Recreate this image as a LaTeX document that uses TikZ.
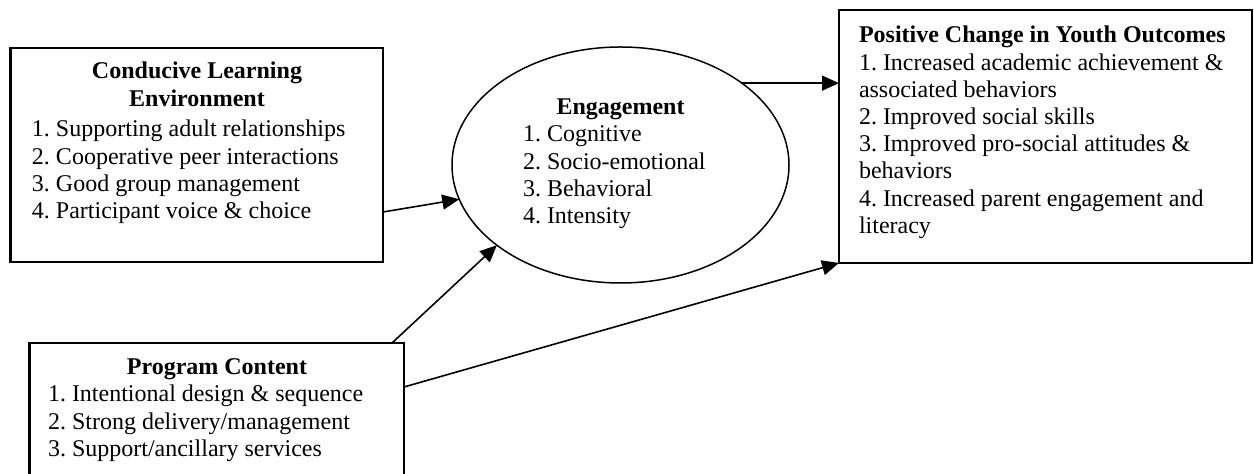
\documentclass[tikz,border=0pt]{standalone}
\usepackage{fontspec}
\setmainfont{Liberation Serif}
\usetikzlibrary{shapes.geometric,arrows.meta}
\frenchspacing
\begin{document}
\begin{tikzpicture}[x=0.5pt,y=-0.5pt,
  panel/.style={draw, line width=1.1pt, rectangle, inner sep=0pt, outer sep=0pt},
  oval/.style={draw, line width=0.75pt, ellipse, inner sep=0pt, outer sep=0pt},
  txt/.style={inner sep=0pt, outer sep=0pt, font=\fontsize{12}{13.6}\selectfont\frenchspacing},
  arr/.style={line width=0.8pt, -{Triangle[length=8.5pt,width=7.5pt]}}]
\clip (0,0) rectangle (1254,474);
\fill[white] (0,0) rectangle (1254,474);

% the four elements of the model
\node[panel, minimum width=186.25pt, minimum height=107pt] (cle) at (196.75,155) {};
\node[oval, minimum width=168.5pt, minimum height=118pt] (eng) at (620.5,165) {};
\node[panel, minimum width=206.5pt, minimum height=126.5pt] (pos) at (1045.5,136.5) {};
\node[panel, minimum width=187.25pt, minimum height=83.5pt] (prog) at (216.75,426.5) {};

% Conducive Learning Environment
\node[txt, anchor=base] (cleT) at (197,79)
  {\parbox[t]{180pt}{\centering\bfseries Conducive Learning\\Environment}};
\node[txt, anchor=base west] (cleL) at (32,137)
  {\parbox[t]{185pt}{\raggedright\frenchspacing
   1. Supporting adult relationships\\
   2. Cooperative peer interactions\\
   3. Good group management\\
   4. Participant voice \& choice}};

% Engagement
\node[txt, anchor=base, font=\fontsize{12}{13.6}\selectfont\bfseries] (engT) at (620.5,115) {Engagement};
\node[txt, anchor=base west] (engL) at (523,142)
  {\parbox[t]{120pt}{\raggedright\frenchspacing
   1. Cognitive\\
   2. Socio-emotional\\
   3. Behavioral\\
   4. Intensity}};

% Positive Change in Youth Outcomes
\node[txt, anchor=base west] (posL) at (859,43)
  {\parbox[t]{195pt}{\raggedright\frenchspacing
   \textbf{Positive Change in Youth Outcomes}\\
   1. Increased academic achievement \&\\
   associated behaviors\\
   2. Improved social skills\\
   3. Improved pro-social attitudes \&\\
   behaviors\\
   4. Increased parent engagement and\\
   literacy}};

% Program Content
\node[txt, anchor=base, font=\fontsize{12}{13.6}\selectfont\bfseries] (progT) at (217,375) {Program Content};
\node[txt, anchor=base west] (progL) at (48,402)
  {\parbox[t]{185pt}{\raggedright\frenchspacing
   1. Intentional design \& sequence\\
   2. Strong delivery/management\\
   3. Support/ancillary services}};

% connectors
\draw[arr] ([yshift=-28.5pt]cle.east) -- (eng.192);
\draw[arr] ([xshift=-6pt]prog.north east) -- (eng.213.5);
\draw[arr] ([yshift=19.75pt]prog.east) -- (pos.south west);
\draw[arr] (eng.34.5) -- (eng.34.5 -| pos.west);
\end{tikzpicture}
\end{document}
